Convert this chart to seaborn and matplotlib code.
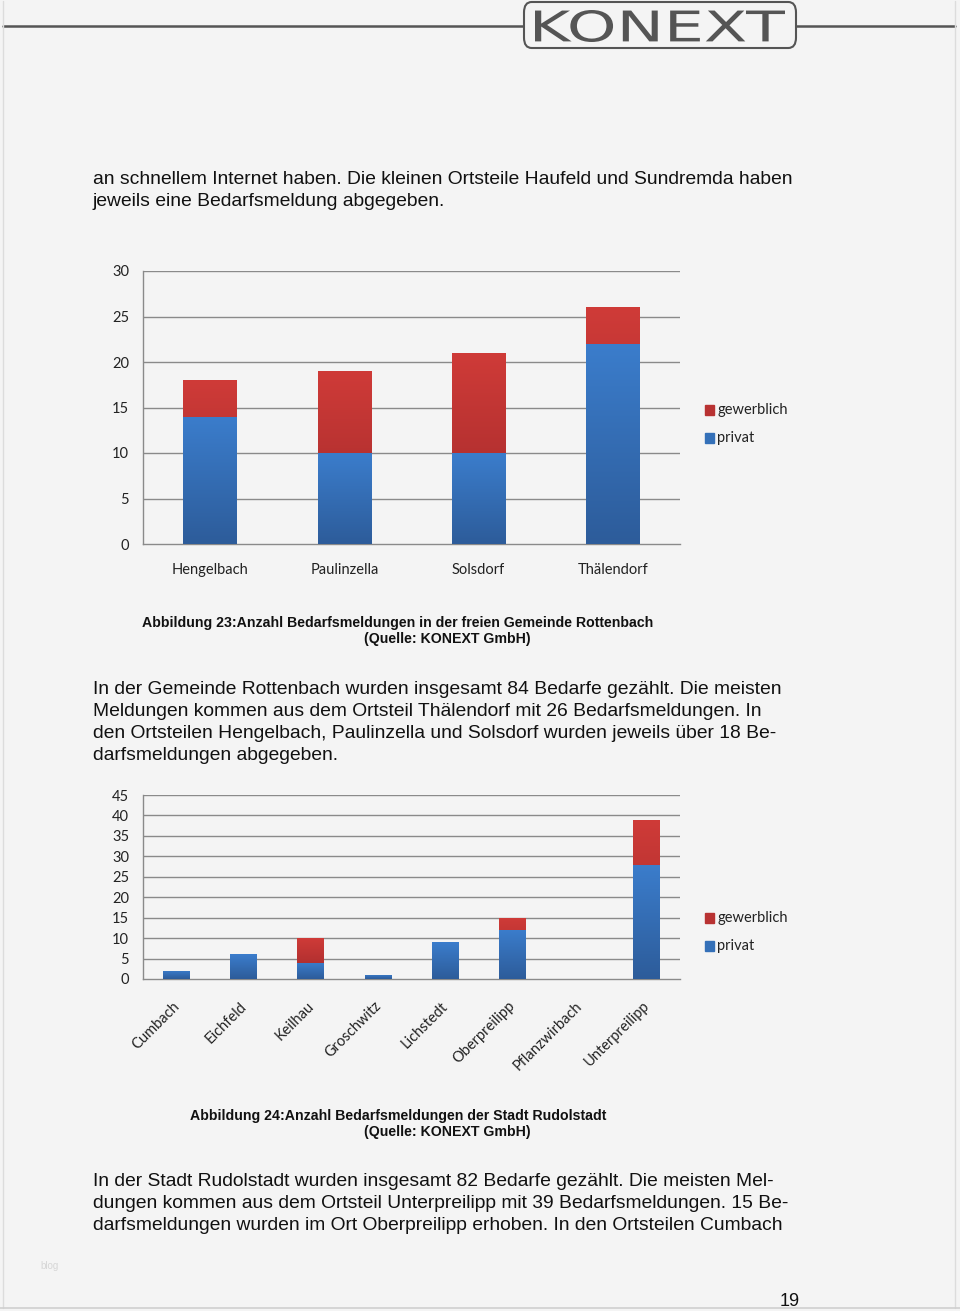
import matplotlib
matplotlib.use("Agg")
import matplotlib.pyplot as plt
import seaborn as sns
import numpy as np
from matplotlib.patches import FancyBboxPatch, Rectangle, PathPatch
from matplotlib.textpath import TextPath
from matplotlib.font_manager import FontProperties
from matplotlib.transforms import Affine2D, ScaledTranslation
import matplotlib.colors as mcolors

# ---------------- data ----------------
cats1 = ["Hengelbach", "Paulinzella", "Solsdorf", "Thälendorf"]
privat1 = [14, 10, 10, 22]
gewerblich1 = [4, 9, 11, 4]
yticks1 = [0, 5, 10, 15, 20, 25, 30]

cats2 = ["Cumbach", "Eichfeld", "Keilhau", "Groschwitz", "Lichstedt",
         "Oberpreilipp", "Pflanzwirbach", "Unterpreilipp"]
privat2 = [2, 6, 4, 1, 9, 12, 0, 28]
gewerblich2 = [0, 0, 6, 0, 0, 3, 0, 11]
yticks2 = [0, 5, 10, 15, 20, 25, 30, 35, 40, 45]

series_names = ["gewerblich", "privat"]

text_top = ["an schnellem Internet haben. Die kleinen Ortsteile Haufeld und Sundremda haben",
            "jeweils eine Bedarfsmeldung abgegeben."]
caption1 = ["Abbildung 23:Anzahl Bedarfsmeldungen in der freien Gemeinde Rottenbach",
            "(Quelle: KONEXT GmbH)"]
text_mid = ["In der Gemeinde Rottenbach wurden insgesamt 84 Bedarfe gezählt. Die meisten",
            "Meldungen kommen aus dem Ortsteil Thälendorf mit 26 Bedarfsmeldungen. In",
            "den Ortsteilen Hengelbach, Paulinzella und Solsdorf wurden jeweils über 18 Be-",
            "darfsmeldungen abgegeben."]
caption2 = ["Abbildung 24:Anzahl Bedarfsmeldungen der Stadt Rudolstadt",
            "(Quelle: KONEXT GmbH)"]
text_bot = ["In der Stadt Rudolstadt wurden insgesamt 82 Bedarfe gezählt. Die meisten Mel-",
            "dungen kommen aus dem Ortsteil Unterpreilipp mit 39 Bedarfsmeldungen. 15 Be-",
            "darfsmeldungen wurden im Ort Oberpreilipp erhoben. In den Ortsteilen Cumbach"]

# ---------------- style ----------------
BG = "#f4f4f4"
RED_TOP, RED_BOT = "#cf3b38", "#a0292a"
BLUE_TOP, BLUE_BOT = "#3b7dcc", "#2d5c9a"
RED_MID, BLUE_MID = "#b83232", "#3470b8"
GRID = "#8a8a8a"
CHART_FONT = "Lato"
BODY_FONT = "Liberation Sans"

sns.set_theme(style="white")
plt.rcParams["font.family"] = ["DejaVu Sans"]

W, H = 960, 1311
fig = plt.figure(figsize=(W / 100, H / 100), dpi=100, facecolor=BG)


def px_ax(x0, y0, x1, y1):
    return fig.add_axes([x0 / W, 1 - y1 / H, (x1 - x0) / W, (y1 - y0) / H])


def gradient_fill(ax, patches, ctop, cbot):
    cmap = mcolors.LinearSegmentedColormap.from_list("g", [cbot, ctop])
    grad = np.linspace(0, 1, 256).reshape(-1, 1)
    for p in patches:
        x, y = p.get_x(), p.get_y()
        w, h = p.get_width(), p.get_height()
        if h <= 0:
            continue
        im = ax.imshow(grad, cmap=cmap, extent=[x, x + w, y, y + h],
                       origin="lower", aspect="auto", zorder=p.get_zorder() + 0.1)
        im.set_clip_path(p)


def stacked_chart(ax, cats, privat, gew, yticks, rotate):
    totals = [a + b for a, b in zip(privat, gew)]
    n = len(cats)
    sns.barplot(x=cats, y=totals, color=RED_MID, width=0.4, ax=ax,
                saturation=1, zorder=3, linewidth=0)
    red_patches = list(ax.patches)
    sns.barplot(x=cats, y=privat, color=BLUE_MID, width=0.4, ax=ax,
                saturation=1, zorder=4, linewidth=0)
    blue_patches = [p for p in ax.patches if p not in red_patches]
    gradient_fill(ax, red_patches, RED_TOP, RED_BOT)
    gradient_fill(ax, blue_patches, BLUE_TOP, BLUE_BOT)
    ax.set_facecolor(BG)
    ax.set_xlim(-0.5, n - 0.5)
    ax.set_ylim(yticks[0], yticks[-1])
    ax.set_yticks(yticks)
    for t in yticks[1:]:
        ax.axhline(t, color=GRID, lw=1.0, zorder=1)
    for s in ["top", "right"]:
        ax.spines[s].set_visible(False)
    for s in ["left", "bottom"]:
        ax.spines[s].set_color(GRID)
        ax.spines[s].set_linewidth(1.0)
    ax.set_xticks(np.arange(-0.5, n, 1.0), minor=True)
    ax.tick_params(axis="x", which="minor", length=5, color=GRID, width=1, direction="out")
    ax.tick_params(axis="x", which="major", length=0, pad=14 if not rotate else 18)
    ax.tick_params(axis="y", length=4, color=GRID, width=1, direction="out", pad=6)
    for lab in ax.get_yticklabels():
        lab.set_fontfamily(CHART_FONT)
        lab.set_fontsize(10.5)
        lab.set_color("#222222")
    ax.set_xticks(range(n))
    ax.set_xticklabels(cats)
    for lab in ax.get_xticklabels():
        lab.set_fontfamily(CHART_FONT)
        lab.set_fontsize(10.5)
        lab.set_color("#222222")
        if rotate:
            lab.set_rotation(45)
            lab.set_ha("right")
            lab.set_rotation_mode("anchor")
            lab.set_va("center")
            lab.set_transform(lab.get_transform() +
                              ScaledTranslation(1 / 100, 0, fig.dpi_scale_trans))
    ax.set_xlabel("")
    ax.set_ylabel("")


def legend(ypx):
    for i, (name, col) in enumerate(zip(series_names, [RED_MID, BLUE_MID])):
        y = ypx + i * 28
        fig.patches.append(Rectangle(((705) / W, 1 - (y + 5) / H), 9 / W, 10 / H,
                                     transform=fig.transFigure, color=col))
        fig.text(717 / W, 1 - y / H, name, fontsize=10.5, family=CHART_FONT,
                 color="#222222", va="center", ha="left")


# ---------------- chart 1 ----------------
ax1 = px_ax(143, 271, 680, 544)
stacked_chart(ax1, cats1, privat1, gewerblich1, yticks1, rotate=False)
legend(410)

# ---------------- chart 2 ----------------
ax2 = px_ax(143, 795, 680, 979)
stacked_chart(ax2, cats2, privat2, gewerblich2, yticks2, rotate=True)
legend(918)

# ---------------- page text ----------------
def lines(txts, x, y0, dy, **kw):
    for i, t in enumerate(txts):
        fig.text(x / W, 1 - (y0 + i * dy) / H, t, va="center", **kw)


body = dict(fontsize=13.9, family=BODY_FONT, color="#111111", ha="left")
lines(text_top, 93, 179, 22, **body)
lines(text_mid, 93, 690, 21.7, **body)
lines(text_bot, 93, 1182, 22, **body)

cap = dict(fontsize=10.15, family=BODY_FONT, weight="bold", color="#111111", ha="center")
fig.text(398 / W, 1 - 623 / H, caption1[0], va="center", **cap)
fig.text(447 / W, 1 - 639 / H, caption1[1], va="center", **cap)
fig.text(398 / W, 1 - 1116 / H, caption2[0], va="center", **cap)
fig.text(447 / W, 1 - 1132 / H, caption2[1], va="center", **cap)

fig.text(790 / W, 1 - 1301 / H, "19", fontsize=13, family=BODY_FONT,
         color="#111111", ha="center", va="center")
fig.text(40 / W, 1 - 1266 / H, "blog", fontsize=7, family=BODY_FONT,
         color="#d6d6d6", ha="left", va="center")

# ---------------- header / logo ----------------
fig.add_artist(plt.Line2D([3 / W, 955 / W], [1 - 26 / H, 1 - 26 / H],
                          transform=fig.transFigure, color="#555555", lw=1.8))
fig.patches.append(FancyBboxPatch((524 / W, 1 - 48 / H), 272 / W, 46 / H,
                                  boxstyle="round,pad=0,rounding_size=0.008",
                                  transform=fig.transFigure, facecolor=BG,
                                  edgecolor="#555555", lw=1.5, zorder=5))
tp = TextPath((0, 0), "KONEXT", size=10, prop=FontProperties(family="DejaVu Sans"))
bb = tp.get_extents()
sx = (785 - 535) / bb.width
sy = (42 - 10) / bb.height
tr = Affine2D().translate(-bb.x0, -bb.y0).scale(sx / W, sy / H).translate(535 / W, 1 - 42 / H)
logo = tr.transform_path(tp)
fig.patches.append(PathPatch(logo, transform=fig.transFigure, facecolor="#555555",
                             edgecolor="none", zorder=6))

# page frame
fig.add_artist(plt.Line2D([3 / W, 3 / W], [0.002, 0.999], transform=fig.transFigure,
                          color="#dcdcdc", lw=1))
fig.add_artist(plt.Line2D([955 / W, 955 / W], [0.002, 0.999], transform=fig.transFigure,
                          color="#dcdcdc", lw=1))
fig.add_artist(plt.Line2D([0, 1], [1 - 1308 / H, 1 - 1308 / H], transform=fig.transFigure,
                          color="#cfcfcf", lw=1.2))

fig.savefig("out.png", dpi=100, facecolor=BG)
